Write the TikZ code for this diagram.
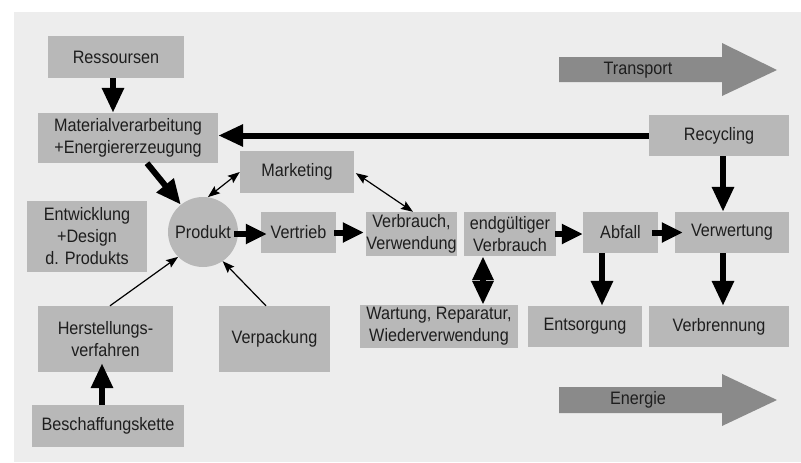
\documentclass[tikz,border=0pt]{standalone}
\usepackage{fontspec}
\setmainfont{Liberation Sans}[FakeStretch=0.9]
\usetikzlibrary{arrows.meta}
\definecolor{panel}{HTML}{EDEDED}
\definecolor{boxg}{HTML}{B8B8B8}
\definecolor{bigarr}{HTML}{8A8A8A}
\definecolor{txt}{HTML}{1E1E1E}
\begin{document}
\begin{tikzpicture}[x=1pt,y=-1pt,
 lbl/.style={text=txt, font=\fontsize{18}{22}\selectfont, align=center, inner sep=0pt},
 box/.style={lbl, fill=boxg, rectangle},
 fat/.style={line width=6pt, -{Triangle[length=25pt,width=21pt]}},
 fatshort/.style={line width=6pt, -{Triangle[length=21pt,width=19pt]}},
 fatboth/.style={line width=6pt, {Triangle[length=24pt,width=20pt]}-{Triangle[length=24pt,width=20pt]}},
 thinboth/.style={line width=1.2pt, {Stealth[length=12pt,width=9pt,inset=2pt]}-{Stealth[length=12pt,width=9pt,inset=2pt]}},
 thinone/.style={line width=1.2pt, -{Stealth[length=12pt,width=9pt,inset=2pt]}},
]
\useasboundingbox (0,0) rectangle (801,463);
\fill[white] (0,0) rectangle (801,463);
\fill[panel] (14,12) rectangle (801,462);

% big grey arrows
\fill[bigarr] (559,57) -- (722,57) -- (722,43) -- (777,70) -- (722,96) -- (722,82) -- (559,82) -- cycle;
\node[lbl] (transport) at (638,70) {Transport};
\fill[bigarr] (559,387) -- (722,387) -- (722,374) -- (777,400) -- (722,426) -- (722,413) -- (559,413) -- cycle;
\node[lbl] (energie) at (638,400) {Energie};

% boxes
\node[box, minimum width=136pt, minimum height=42pt] (res) at (116,57) {Ressoursen};
\node[box, minimum width=180pt, minimum height=50pt] (mat) at (128,138) {Materialverarbeitung\\+Energiererzeugung};
\node[box, minimum width=114pt, minimum height=42pt] (mark) at (297,172) {Marketing};
\node[lbl, fill=boxg, circle, minimum size=70pt] (prod) at (203,232) {Produkt};
\node[box, minimum width=120pt, minimum height=71pt] (entw) at (87,236.5) {Entwicklung\\+Design\\d. Produkts};
\node[box, minimum width=75pt, minimum height=41pt] (vert) at (298.5,232.5) {Vertrieb};
\node[box, minimum width=91pt, minimum height=44pt] (verb) at (411.5,234) {Verbrauch,\\Verwendung};
\node[box, minimum width=92pt, minimum height=44pt] (endg) at (510,234) {endgültiger\\Verbrauch};
\node[box, minimum width=75pt, minimum height=41pt] (abf) at (620.5,232.5) {Abfall};
\node[box, minimum width=114pt, minimum height=41pt] (verw) at (732,232.5) {Verwertung};
\node[box, minimum width=140pt, minimum height=41pt] (rec) at (719,135.5) {Recycling};
\node[box, minimum width=158pt, minimum height=43pt] (wart) at (439,326.5) {Wartung, Reparatur,\\Wiederverwendung};
\node[box, minimum width=114pt, minimum height=41pt] (ents) at (585,326.5) {Entsorgung};
\node[box, minimum width=140pt, minimum height=41pt] (verbr) at (719,326.5) {Verbrennung};
\node[box, minimum width=135pt, minimum height=66pt] (herst) at (105.5,339) {Herstellungs-\\verfahren};
\node[box, minimum width=111pt, minimum height=66pt] (verp) at (274.5,339) {Verpackung};
\node[box, minimum width=152pt, minimum height=42pt] (besch) at (108,426) {Beschaffungskette};

% connectors
\draw[fat] ([xshift=-3pt]res.south) -- ([xshift=-3pt]res.south |- mat.north);
\draw[fat] (rec.west) -- (rec.west -| mat.east);
\draw[fat] ([xshift=19pt]mat.south) -- (prod.129);
\draw[fatshort, shorten <=-4pt, shorten >=-6pt] ([yshift=-2pt]prod.east) -- ([yshift=-2pt]prod.east -| vert.west);
\draw[fatshort] ([xshift=-2pt]vert.east) -- ([xshift=-2pt]vert.east -| verb.west);
\draw[fatshort] ([xshift=-1pt]endg.east) -- (endg.east -| abf.west);
\draw[fatshort, shorten >=-8pt] ([xshift=-6pt]abf.east) -- (abf.east -| verw.west);
\draw[fat] ([xshift=4pt]rec.south) -- ([xshift=4pt]rec.south |- verw.north);
\draw[fat] ([xshift=-18.5pt]abf.south) -- ([xshift=-18.5pt]abf.south |- ents.north);
\draw[fat] ([xshift=-9pt]verw.south) -- ([xshift=-9pt]verw.south |- verbr.north);
\draw[fatboth] ([xshift=-27pt]endg.south) -- ([xshift=-27pt]endg.south |- wart.north);
\draw[fat, shorten >=-9pt] ([xshift=-6pt]besch.north) -- ([xshift=-6pt]besch.north |- herst.south);
\draw[thinboth] (prod.82) -- (mark.west);
\draw[thinboth, shorten <=2pt] (mark.east) -- ([xshift=1.5pt]verb.north);
\draw[thinone] ([xshift=4.5pt]herst.north) -- (prod.225);
\draw[thinone] ([xshift=-8.5pt]verp.north) -- (prod.304);
\end{tikzpicture}
\end{document}
